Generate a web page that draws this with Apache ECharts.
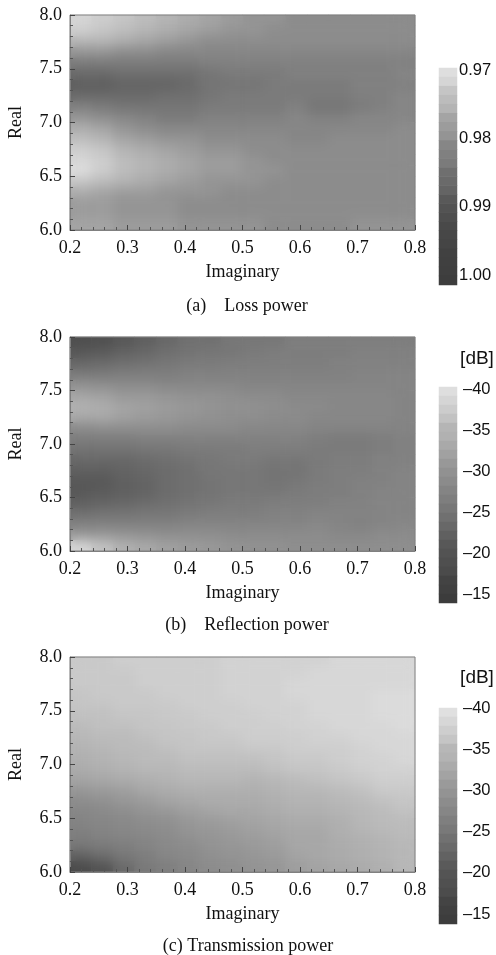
<!DOCTYPE html>
<html>
<head>
<meta charset="utf-8">
<style>
  html, body { margin: 0; background: #fff; }
  #main { width: 496px; height: 955px; }
  /* soften the cell edges of the maps, only inside the three plot areas */
  canvas[data-zr-dom-id="zr_1"] {
    filter: blur(6px);
    clip-path: path('M70 15H415V230H70Z M70 337H415V551H70Z M70 657H415V872H70Z');
  }
</style>
<script src="https://cdn.jsdelivr.net/npm/echarts@6/dist/echarts.min.js"></script>
</head>
<body>
<div id="main"></div>
<script>
// cell centres of the colour maps
const imagCells = ['0.219', '0.256', '0.294', '0.331', '0.369', '0.406', '0.444', '0.481', '0.519', '0.556', '0.594', '0.631', '0.669', '0.706', '0.744', '0.781'];
const realCells = ['7.95', '7.85', '7.75', '7.65', '7.55', '7.45', '7.35', '7.25', '7.15', '7.05', '6.95', '6.85', '6.75', '6.65', '6.55', '6.45', '6.35', '6.25', '6.15', '6.05'];

// one row per realCells entry
const lossPower = [
  [.971, .972, .973, .974, .975, .976, .977, .978, .979, .979, .980, .980, .980, .980, .980, .980],
  [.972, .973, .974, .975, .976, .977, .978, .979, .979, .980, .980, .980, .980, .980, .980, .980],
  [.975, .975, .976, .977, .978, .979, .980, .980, .980, .980, .980, .980, .980, .980, .980, .980],
  [.979, .979, .980, .980, .981, .981, .981, .981, .981, .981, .981, .981, .981, .981, .981, .981],
  [.983, .983, .983, .983, .983, .983, .982, .982, .982, .982, .982, .982, .982, .982, .982, .982],
  [.986, .986, .985, .985, .985, .985, .984, .983, .983, .983, .982, .982, .982, .982, .982, .981],
  [.988, .988, .987, .987, .987, .986, .984, .984, .984, .983, .983, .983, .983, .982, .982, .982],
  [.986, .986, .986, .986, .985, .985, .984, .983, .983, .983, .983, .983, .983, .982, .982, .981],
  [.982, .983, .984, .984, .984, .984, .983, .983, .983, .983, .982, .984, .984, .983, .982, .981],
  [.979, .980, .981, .982, .983, .983, .982, .982, .982, .982, .981, .982, .982, .981, .981, .981],
  [.976, .977, .979, .980, .981, .981, .981, .981, .981, .981, .981, .981, .981, .981, .981, .980],
  [.974, .975, .977, .978, .979, .979, .980, .980, .980, .980, .981, .981, .980, .980, .980, .980],
  [.972, .973, .975, .976, .977, .978, .979, .979, .980, .980, .980, .980, .980, .980, .980, .980],
  [.971, .972, .974, .975, .976, .977, .978, .978, .979, .980, .980, .980, .980, .980, .980, .980],
  [.970, .972, .974, .975, .976, .977, .978, .978, .979, .979, .980, .980, .980, .980, .980, .980],
  [.973, .974, .975, .976, .977, .978, .979, .979, .979, .980, .980, .980, .980, .980, .980, .980],
  [.976, .977, .978, .978, .979, .979, .979, .980, .980, .980, .980, .980, .980, .980, .980, .980],
  [.978, .978, .979, .979, .979, .980, .980, .980, .980, .980, .980, .980, .980, .980, .980, .980],
  [.978, .978, .979, .979, .979, .980, .980, .980, .980, .980, .980, .980, .980, .980, .980, .980],
  [.977, .977, .978, .978, .978, .979, .979, .979, .979, .980, .980, .980, .980, .979, .979, .979]
];
const reflectionPower = [
  [-21, -21.5, -23, -24, -25, -26, -26, -27, -27, -27, -28, -28, -28, -28, -28, -28],
  [-23, -23.5, -24.5, -25, -26, -26.5, -27, -27, -27.5, -28, -28, -28, -28, -28.5, -28.5, -28.5],
  [-25, -25.5, -26, -26.5, -27, -27.5, -27.5, -28, -28, -28, -28, -28, -28.5, -28.5, -28.5, -28.5],
  [-27.5, -27.5, -28, -28, -28, -28.5, -28.5, -28.5, -28.5, -28.5, -28.5, -28.5, -28.5, -29, -29, -29],
  [-31, -30.5, -30, -30, -29.5, -29.5, -29.5, -29.5, -29, -29, -29, -29, -29, -29, -29, -29],
  [-33.5, -33, -32, -32, -31.5, -31, -31, -30.5, -30, -30, -29.5, -29.5, -29.5, -29.5, -29.5, -29],
  [-35, -34.5, -33.5, -33, -32.5, -32, -31.5, -31, -31, -30.5, -30, -30, -29.5, -29.5, -29.5, -29],
  [-34, -34, -33, -32.5, -32, -31.5, -31, -30.5, -30.5, -30, -30, -29.5, -29.5, -29.5, -29.5, -29],
  [-30, -30.5, -30.5, -30.5, -30.5, -30, -30, -30, -29.5, -29.5, -29.5, -29, -29, -29, -29, -29],
  [-28, -28, -28, -28.5, -28.5, -28.5, -28.5, -28.5, -28.5, -28.5, -28.5, -28, -27.5, -27.5, -28, -28.5],
  [-26.5, -26.5, -26.5, -27, -27, -27.5, -27.5, -27.5, -28, -28, -28, -27.5, -27.5, -27.5, -28, -28.5],
  [-25, -25, -25, -25.5, -26, -26.5, -27, -27.5, -27.5, -27, -27, -27.5, -28, -28, -28.5, -28.5],
  [-24, -24, -24.5, -25, -25.5, -26, -27, -27, -27, -26.5, -26.5, -27.5, -28, -28, -28.5, -29],
  [-23, -23, -24, -24.5, -25.5, -26, -26.5, -27, -27, -26.5, -27, -27.5, -28, -28.5, -28.5, -29],
  [-23, -23.5, -24, -24.5, -25.5, -26, -26.5, -27, -27, -27, -27.5, -28, -28, -28.5, -29, -29],
  [-24, -24.5, -25, -25.5, -26, -26.5, -27, -27.5, -27.5, -28, -28, -28, -28.5, -28.5, -29, -29],
  [-26, -26.5, -26.5, -27, -27, -27.5, -28, -28, -28, -28.5, -28.5, -29, -29, -29, -29, -29],
  [-28.5, -28.5, -28.5, -28.5, -28.5, -29, -29, -29, -29, -29, -29, -29.5, -29, -28.5, -29, -29.5],
  [-32, -32, -31.5, -31, -30.5, -30.5, -30.5, -30, -30, -30, -30, -30, -29.5, -29.5, -30, -30],
  [-39, -37, -35, -34, -33, -32.5, -32, -31.5, -31, -31, -30.5, -30.5, -30.5, -30.5, -30.5, -30.5]
];
const transmissionPower = [
  [-37.5, -37.5, -38, -38, -38, -38, -38, -38.5, -38.5, -38.5, -38.5, -38.5, -39, -39, -39, -39],
  [-37.5, -37.5, -37.5, -38, -38, -38, -38, -38.5, -38.5, -38.5, -38.5, -39, -39, -39, -39, -39],
  [-37.5, -37.5, -37.5, -38, -38, -38, -38, -38.5, -38.5, -38.5, -39, -39, -39, -39, -39, -39],
  [-37, -37.5, -37.5, -37.5, -38, -38, -38, -38.5, -38.5, -38.5, -39, -39, -39, -39, -39.5, -39.5],
  [-37, -37, -37.5, -37.5, -37.5, -38, -38, -38, -38.5, -38.5, -38.5, -39, -39, -39, -39.5, -39.5],
  [-36.5, -36.5, -37, -37, -37.5, -37.5, -38, -38, -38, -38.5, -38.5, -39, -39, -39, -39.5, -39.5],
  [-36, -36.5, -36.5, -37, -37, -37.5, -37.5, -38, -38, -38, -38.5, -38.5, -39, -39, -39, -39.5],
  [-35.5, -36, -36, -36.5, -37, -37, -37.5, -37.5, -38, -38, -38, -38.5, -38.5, -39, -39, -39],
  [-35, -35.5, -36, -36, -36.5, -37, -37, -37, -37.5, -37.5, -38, -38, -38, -38.5, -39, -39],
  [-34.5, -35, -35.5, -36, -36, -36.5, -36.5, -36.5, -36.5, -37, -37.5, -37.5, -38, -38.5, -38.5, -39],
  [-34, -34.5, -35, -35.5, -35.5, -36, -36, -36, -36, -36.5, -37, -37, -37.5, -38, -38.5, -38.5],
  [-33, -33.5, -34, -34.5, -35, -35.5, -35.5, -35.5, -35, -35.5, -36, -36.5, -37, -37.5, -38, -38],
  [-31.5, -32, -32.5, -33.5, -34, -34.5, -34.5, -34.5, -34.5, -35, -35.5, -35.5, -36, -36.5, -37.5, -37.5],
  [-30, -30.5, -31.5, -32, -33, -33.5, -34, -34, -34, -34.5, -35, -35, -35.5, -36, -36.5, -37],
  [-29, -29.5, -30, -31, -31.5, -32.5, -33, -33.5, -33.5, -34, -34.5, -34.5, -35, -35.5, -36, -36.5],
  [-28.5, -29, -29.5, -30, -30.5, -31.5, -32, -32.5, -33, -33.5, -34, -34, -34.5, -35.5, -36, -36],
  [-28, -28.5, -29, -29.5, -30, -31, -31.5, -32, -32.5, -33, -33.5, -33.5, -34.5, -35, -35.5, -36],
  [-27, -27.5, -28, -28.5, -29.5, -30, -31, -31.5, -32, -32.5, -33.5, -33.5, -34, -34.5, -35, -35.5],
  [-24, -25.5, -27, -28, -29, -29.5, -30.5, -31, -31.5, -32, -33, -33.5, -34, -34.5, -35, -35.5],
  [-20, -22, -25, -27, -28, -29, -30, -30.5, -31, -31.5, -32.5, -33, -33.5, -34, -34.5, -35.5]
];

// steps of the colour bars, top to bottom
const lossLevels = [.970, .971, .973, .974, .975, .977, .978, .979, .981, .982, .983, .985, .986, .987, .989, .990, .991, .993, .994, .995, .997, .998, .999, 1.001];
const dbLevels = [-40, -39, -38, -37, -35.5, -35, -34, -33, -32, -31, -30, -29, -28, -27, -26, -25, -24, -23, -22, -21, -20, -18, -16, -14];

const lossGrays = ['#e0e0e0', '#b4b4b4', '#8a8a8a', '#6c6c6c', '#4e4e4e', '#424242', '#3c3c3c'];
const dbGrays = ['#e0e0e0', '#b8b8b8', '#949494', '#787878', '#565656', '#444444', '#3c3c3c'];

const serif = '"Liberation Serif", serif';
const sans = '"Liberation Sans", sans-serif';
const ink = '#111';

const panels = [
  { rows: lossPower, top: 15, height: 215, caption: '(a)    Loss power', captionX: 247, captionY: 306,
    levels: lossLevels, barTop: 68, barHeight: 217, axisTop: 70, axisHeight: 205, axisMin: 0.97, axisMax: 1, axisStep: 0.01,
    vmMin: 0.9697, vmMax: 1.0015, grays: lossGrays, margin: 2, fmt: v => v.toFixed(2) },
  { rows: reflectionPower, top: 337, height: 214, caption: '(b)    Reflection power', captionX: 247, captionY: 625,
    levels: dbLevels, barTop: 387, barHeight: 216, axisTop: 389, axisHeight: 205, axisMin: -40, axisMax: -15, axisStep: 5,
    vmMin: -40.25, vmMax: -13.9, grays: dbGrays, margin: 6, unit: 359, fmt: v => '\u2013' + Math.abs(v) },
  { rows: transmissionPower, top: 657, height: 215, caption: '(c) Transmission power', captionX: 248, captionY: 946,
    levels: dbLevels, barTop: 708, barHeight: 216, axisTop: 708, axisHeight: 206, axisMin: -40, axisMax: -15, axisStep: 5,
    vmMin: -40, vmMax: -13.7, grays: dbGrays, margin: 6, unit: 678, fmt: v => '\u2013' + Math.abs(v) }
];

function valueAxis(extra, labelMargin) {
  return Object.assign({
    type: 'value', zlevel: 2, z: 5,
    nameLocation: 'middle',
    nameTextStyle: { fontFamily: serif, fontSize: 18, color: ink },
    axisLine: { show: true, lineStyle: { color: '#808080' } },
    axisTick: { show: true, inside: true, length: 5, lineStyle: { color: '#444' } },
    minorTick: { show: true, splitNumber: 5, length: 3, lineStyle: { color: '#555' } },
    splitLine: { show: false },
    axisLabel: { show: true, margin: labelMargin, fontFamily: serif, fontSize: 18, color: ink, formatter: v => v.toFixed(1) }
  }, extra);
}

const option = { animation: false, grid: [], xAxis: [], yAxis: [], series: [], visualMap: [], graphic: [] };

panels.forEach(function (p) {
  const cells = [];
  p.rows.forEach(function (row, r) {
    row.forEach(function (v, c) {
      cells.push([c, r, v]);
    });
  });

  // the map: hidden category axes carry the cells, value axes carry the ticks
  const gridIndex = option.grid.length;
  option.grid.push({ left: 70, top: p.top, width: 345, height: p.height, show: true, zlevel: 2, outerBoundsMode: 'none', backgroundColor: 'transparent', borderColor: '#808080', borderWidth: 1 });
  const cellX = option.xAxis.length;
  option.xAxis.push({ type: 'category', gridIndex: gridIndex, data: imagCells, show: false });
  option.xAxis.push(valueAxis({ gridIndex: gridIndex, position: 'bottom', min: 0.2, max: 0.8, interval: 0.1, name: 'Imaginary', nameGap: 33 }, 9));
  const cellY = option.yAxis.length;
  option.yAxis.push({ type: 'category', gridIndex: gridIndex, data: realCells, inverse: true, show: false });
  option.yAxis.push(valueAxis({ gridIndex: gridIndex, position: 'left', min: 6, max: 8, interval: 0.5, name: 'Real', nameGap: 45 }, 8));

  // same cells twice: sharp underneath so the blurred copy does not fade at the frame
  const mapIndex = option.series.length;
  option.series.push({ type: 'heatmap', xAxisIndex: cellX, yAxisIndex: cellY, data: cells, progressive: 0, emphasis: { disabled: true } });
  option.series.push({ type: 'heatmap', xAxisIndex: cellX, yAxisIndex: cellY, data: cells, progressive: 0, emphasis: { disabled: true }, zlevel: 1 });

  // colour bar: a stepped strip of cells
  const stripGrid = option.grid.length;
  option.grid.push({ left: 439, top: p.barTop, width: 18, height: p.barHeight, outerBoundsMode: 'none' });
  const stripX = option.xAxis.length;
  option.xAxis.push({ type: 'category', gridIndex: stripGrid, data: ['bar'], show: false });
  const stripY = option.yAxis.length;
  option.yAxis.push({ type: 'category', gridIndex: stripGrid, data: p.levels.map(String), inverse: true, show: false });
  option.series.push({
    type: 'heatmap', xAxisIndex: stripX, yAxisIndex: stripY,
    data: p.levels.map((v, r) => [0, r, v]), progressive: 0, emphasis: { disabled: true }
  });

  option.visualMap.push({
    type: 'continuous', show: false, seriesIndex: [mapIndex, mapIndex + 1, mapIndex + 2], dimension: 2,
    min: p.vmMin, max: p.vmMax, inRange: { color: p.grays }
  });

  // tick labels of the bar
  const barGrid = option.grid.length;
  option.grid.push({ left: 439, top: p.axisTop, width: 18, height: p.axisHeight, outerBoundsMode: 'none' });
  option.xAxis.push({ type: 'value', gridIndex: barGrid, show: false });
  option.yAxis.push({
    type: 'value', gridIndex: barGrid, position: 'right', inverse: true,
    min: p.axisMin, max: p.axisMax, interval: p.axisStep,
    axisLine: { show: false }, axisTick: { show: false }, splitLine: { show: false },
    axisLabel: { show: true, margin: p.margin, fontFamily: sans, fontSize: 16.5, color: ink, formatter: p.fmt }
  });

  option.graphic.push({
    type: 'text', x: p.captionX, y: p.captionY,
    style: { text: p.caption, fontFamily: serif, fontSize: 18, fill: ink, align: 'center', verticalAlign: 'middle' }
  });
  if (p.unit) {
    option.graphic.push({
      type: 'text', x: 477, y: p.unit,
      style: { text: '[dB]', fontFamily: sans, fontSize: 19, fill: ink, align: 'center', verticalAlign: 'middle' }
    });
  }
});

const myChart = echarts.init(document.getElementById('main'));
myChart.setOption(option);
</script>
</body>
</html>
